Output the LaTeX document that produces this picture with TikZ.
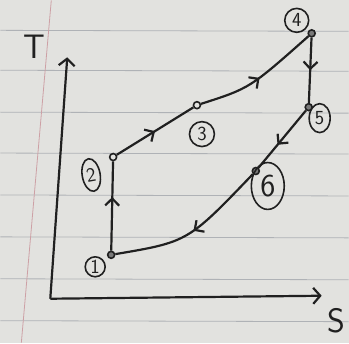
\documentclass[tikz,border=0pt]{standalone}
\usetikzlibrary{arrows.meta,decorations.markings,shapes.geometric}
\definecolor{paper}{RGB}{226,226,223}
\definecolor{rule}{RGB}{175,178,182}
\definecolor{margin}{RGB}{205,160,165}
\definecolor{pen}{RGB}{32,32,32}
\begin{document}
\begin{tikzpicture}[x=1pt, y=-1pt, line width=2.2pt, draw=pen,
    pt/.style={circle, draw=pen, fill=pen!60, line width=1.6pt, inner sep=0pt, minimum size=7pt},
    lbl/.style={circle, draw=pen, line width=1.6pt, inner sep=0pt, minimum size=20pt, font=\fontsize{20}{22}\selectfont\sffamily, text=pen},
    oval/.style={ellipse, draw=pen, line width=1.6pt, inner sep=0pt, font=\fontsize{20}{22}\selectfont\sffamily, text=pen},
    caret/.style={-{Straight Barb[length=7pt, width=16pt]}},
    flow/.style={decoration={markings, mark=at position #1 with {\arrow{Straight Barb[length=7pt, width=14pt]}}}, postaction={decorate}},
    flow/.default=0.5]
    % paper
    \fill[paper] (0,0) rectangle (349,343);
    \foreach \y in {30,70,112,153,195,237,279,321}
        \draw[rule, line width=0.8pt] (0,\y) -- (349,\y+1);
    \draw[margin, line width=0.8pt] (51,0) -- (21,343);
    % axes
    \coordinate (O) at (50,299);
    \coordinate (Tend) at (67,57);
    \coordinate (Send) at (322,296);
    \draw[caret] (O) -- (Tend);
    \draw[caret] (O) -- (Send);
    \node[font=\fontsize{34}{36}\selectfont\sffamily, text=pen] (T) at (34,46) {T};
    \node[font=\fontsize{34}{36}\selectfont\sffamily, text=pen] (S) at (337,321) {S};
    % state points
    \node[pt] (1) at (111,255) {};
    \node[pt, fill=paper] (2) at (113,157) {};
    \node[pt, fill=paper] (3) at (197,105) {};
    \node[pt] (4) at (312,33) {};
    \node[pt] (5) at (309,107) {};
    \node[pt] (6) at (256,171) {};
    % labels
    \node[lbl] (l1) at (95,267) {1};
    \node[oval, minimum width=18pt, minimum height=33pt, rotate=10] (l2) at (91,175) {2};
    \node[lbl, minimum size=25pt] (l3) at (202,134) {3};
    \node[lbl, minimum size=24pt] (l4) at (297,20) {4};
    \node[oval, minimum width=21pt, minimum height=29pt] (l5) at (320,118) {5};
    \node[oval, minimum width=33pt, minimum height=47pt, font=\fontsize{32}{34}\selectfont\sffamily] (l6) at (268,186) {6};
    % cycle
    \draw[flow=0.6] (1) -- (2);
    \draw[flow] (2) -- (3);
    \draw[flow] (3) .. controls (250,88) .. (4);
    \draw[flow] (4) -- (5);
    \draw[flow=0.6] (5) -- (6);
    \draw[flow] (6) .. controls (188,242) .. (1);
    \useasboundingbox (0,0) rectangle (349,343);
\end{tikzpicture}
\end{document}
